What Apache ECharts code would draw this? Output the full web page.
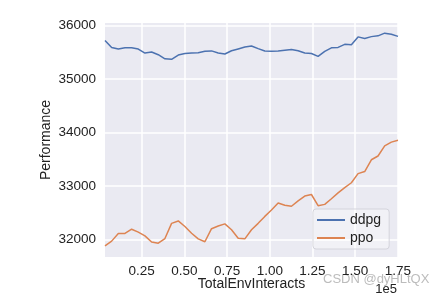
<!DOCTYPE html>
<html>
<head>
<meta charset="utf-8">
<script src="https://cdn.jsdelivr.net/npm/echarts@6/dist/echarts.min.js"></script>
<style>
  html, body { margin: 0; padding: 0; background: #fff; }
  #main { width: 436px; height: 296px; }
</style>
</head>
<body>
<div id="main"></div>
<script>
// x in units of 1e5 env interactions
var steps = [0.035, 0.074, 0.113, 0.152, 0.191, 0.230, 0.269, 0.308, 0.347, 0.386,
    0.425, 0.464, 0.503, 0.542, 0.581, 0.620, 0.659, 0.698, 0.737, 0.776,
    0.815, 0.854, 0.893, 0.932, 0.971, 1.010, 1.049, 1.088, 1.127, 1.166,
    1.205, 1.244, 1.283, 1.322, 1.361, 1.400, 1.439, 1.478, 1.517, 1.556,
    1.595, 1.634, 1.673, 1.712, 1.751];
var ddpg = [35724, 35593, 35565, 35585, 35585, 35563, 35488, 35506, 35456, 35380,
    35370, 35450, 35478, 35488, 35494, 35520, 35528, 35490, 35470, 35530,
    35565, 35600, 35620, 35570, 35525, 35520, 35525, 35540, 35552, 35530,
    35490, 35480, 35425, 35518, 35585, 35593, 35650, 35644, 35790, 35760,
    35795, 35810, 35860, 35840, 35800];
var ppo = [31878, 31967, 32111, 32110, 32190, 32135, 32066, 31950, 31928, 32015,
    32300, 32345, 32240, 32115, 32010, 31955, 32200, 32250, 32290, 32180,
    32020, 32010, 32180, 32300, 32430, 32550, 32680, 32640, 32620, 32720,
    32810, 32840, 32630, 32655, 32760, 32870, 32970, 33060, 33230, 33270,
    33490, 33560, 33750, 33820, 33855];
var xTicks = [0.25, 0.5, 0.75, 1.0, 1.25, 1.5, 1.75];
var yTicks = [32000, 33000, 34000, 35000, 36000];

function pairs(ys) {
    return steps.map(function (x, i) { return [x, ys[i]]; });
}

var font = '"Liberation Sans", Arial, sans-serif';
var option = {
    animation: false,
    grid: {
        left: 105, right: 38, top: 23, bottom: 39,
        show: true, backgroundColor: '#EAEAF2', borderWidth: 0
    },
    xAxis: {
        type: 'value',
        min: 0.035,
        max: 1.751,
        name: 'TotalEnvInteracts',
        nameLocation: 'middle',
        nameGap: 20,
        nameMoveOverlap: false,
        nameTextStyle: { fontFamily: font, fontSize: 14, color: '#222' },
        axisLine: { show: false },
        axisTick: { show: false, customValues: xTicks },
        axisLabel: {
            customValues: xTicks,
            margin: 7,
            fontFamily: font, fontSize: 13.5, color: '#222',
            formatter: function (v) { return v.toFixed(2); }
        },
        splitLine: { show: true, lineStyle: { color: '#fff', width: 1.5 } }
    },
    yAxis: {
        type: 'value',
        min: 31670,
        max: 36050,
        name: 'Performance',
        nameLocation: 'middle',
        nameGap: 52,
        nameMoveOverlap: false,
        nameTextStyle: { fontFamily: font, fontSize: 14, color: '#222' },
        axisLine: { show: false },
        axisTick: { show: false, customValues: yTicks },
        axisLabel: {
            customValues: yTicks,
            margin: 9,
            fontFamily: font, fontSize: 13.5, color: '#222',
            formatter: function (v) { return String(v); }
        },
        splitLine: { show: true, lineStyle: { color: '#fff', width: 1.5 } }
    },
    legend: {
        orient: 'vertical',
        left: 313,
        top: 209,
        padding: [4, 8, 4, 4],
        itemGap: 4,
        itemWidth: 28,
        itemHeight: 2,
        icon: 'rect',
        backgroundColor: 'rgba(255,255,255,0.35)',
        borderColor: '#d4d4dc',
        borderWidth: 1,
        borderRadius: 3,
        textStyle: { fontFamily: font, fontSize: 14, color: '#222' },
        data: ['ddpg', 'ppo']
    },
    graphic: [
        {
            type: 'text', right: 39, top: 283,
            style: { text: '1e5', font: '13px ' + font, fill: '#222' }
        },
        {
            type: 'text', left: 323, top: 273,
            style: { text: 'CSDN @dyHLtQX', font: '13px ' + font, fill: 'rgba(160,160,160,0.7)' }
        }
    ],
    series: [
        {
            name: 'ddpg', type: 'line', showSymbol: false,
            data: pairs(ddpg),
            lineStyle: { color: '#4c72b0', width: 1.5 },
            itemStyle: { color: '#4c72b0' }
        },
        {
            name: 'ppo', type: 'line', showSymbol: false,
            data: pairs(ppo),
            lineStyle: { color: '#dd8452', width: 1.5 },
            itemStyle: { color: '#dd8452' }
        }
    ]
};

var myChart = echarts.init(document.getElementById('main'));
myChart.setOption(option);
</script>
</body>
</html>
